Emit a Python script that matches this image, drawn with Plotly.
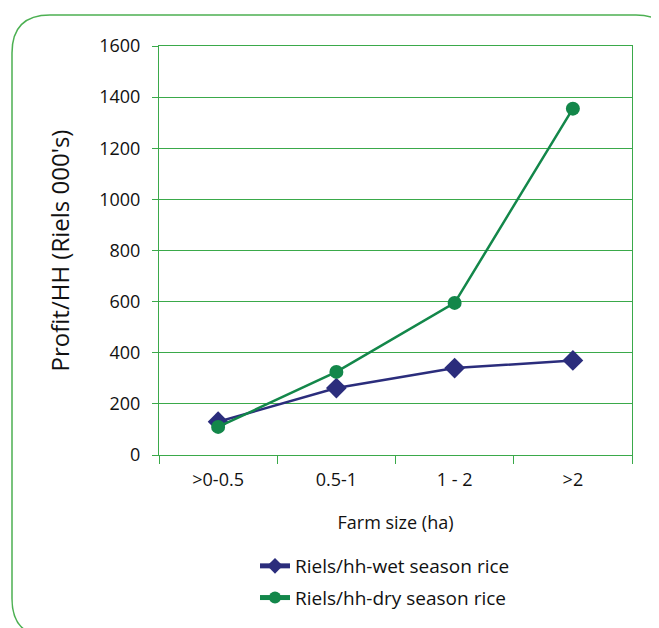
import plotly.graph_objects as go

categories = [">0-0.5", "0.5-1", "1 - 2", ">2"]
wet_season = [130, 262, 340, 370]
dry_season = [110, 325, 595, 1355]
y_ticks = [0, 200, 400, 600, 800, 1000, 1200, 1400, 1600]

OFF = 8  # page body margin offset
W, H = 659 - OFF, 628 - OFF
L, R, T, B = 159 - OFF, 632 - OFF, 46 - OFF, 456 - OFF

GRID = "#3aa94a"
FONT = "Open Sans, Lato, Noto Sans, sans-serif"

fig = go.Figure()
fig.add_trace(go.Scatter(
    x=categories, y=wet_season, mode="lines+markers",
    name="Riels/hh-wet season rice", legendgroup="wet",
    line=dict(color="#2b2d7c", width=2.5),
    marker=dict(symbol="diamond", size=16, color="#2b2d7c"),
))
fig.add_trace(go.Scatter(
    x=categories, y=dry_season, mode="lines+markers",
    name="Riels/hh-dry season rice", legendgroup="dry",
    line=dict(color="#13874a", width=2.5),
    marker=dict(symbol="circle", size=14, color="#13874a"),
))

def fx(px):
    return (px - OFF - L) / (R - L)

def fy(py):
    return (B - (py - OFF)) / (B - T)

# rounded frame around the whole figure (reference pixel coords)
l, t, r, b, rad = 12, 15, 674, 638, 38
path = (
    f"M {fx(l)},{fy(t+rad)} "
    f"Q {fx(l)},{fy(t)} {fx(l+rad)},{fy(t)} "
    f"L {fx(r-rad)},{fy(t)} "
    f"Q {fx(r)},{fy(t)} {fx(r)},{fy(t+rad)} "
    f"L {fx(r)},{fy(b-rad)} "
    f"Q {fx(r)},{fy(b)} {fx(r-rad)},{fy(b)} "
    f"L {fx(l+rad)},{fy(b)} "
    f"Q {fx(l)},{fy(b)} {fx(l)},{fy(b-rad)} Z"
)

fig.update_layout(
    width=W, height=H,
    margin=dict(l=L, r=W - R, t=T, b=H - B),
    paper_bgcolor="white", plot_bgcolor="white",
    font=dict(family=FONT, color="#111111", size=18),
    showlegend=True,
    legend=dict(
        x=fx(255), y=fy(547), xanchor="left", yanchor="top",
        font=dict(size=19, family=FONT, color="#111111"),
        bgcolor="rgba(0,0,0,0)", traceorder="grouped", tracegroupgap=4,
        itemsizing="constant",
    ),
    shapes=[dict(type="path", path=path, xref="paper", yref="paper",
                 line=dict(color="#4cb052", width=1.5), layer="below")],
    xaxis=dict(
        type="category", categoryorder="array", categoryarray=categories,
        tickson="boundaries", ticks="outside", ticklen=8, tickcolor=GRID,
        ticklabelstandoff=8,
        showgrid=False, showline=True, linecolor=GRID, linewidth=1.2, mirror=True,
        tickfont=dict(size=18), range=[-0.5, 3.5],
        title=dict(text="Farm size (ha)", font=dict(size=18), standoff=26),
    ),
    yaxis=dict(
        range=[0, 1600], tickvals=y_ticks, ticks="outside", ticklen=6,
        ticklabelstandoff=8,
        tickcolor=GRID, showgrid=True, gridcolor=GRID, gridwidth=1.2,
        showline=True, linecolor=GRID, linewidth=1.2, mirror=True,
        zeroline=False, tickfont=dict(size=18),
        title=dict(text="Profit/HH (Riels 000's)", font=dict(size=24), standoff=22),
    ),
)

fig.write_html("out.html")
